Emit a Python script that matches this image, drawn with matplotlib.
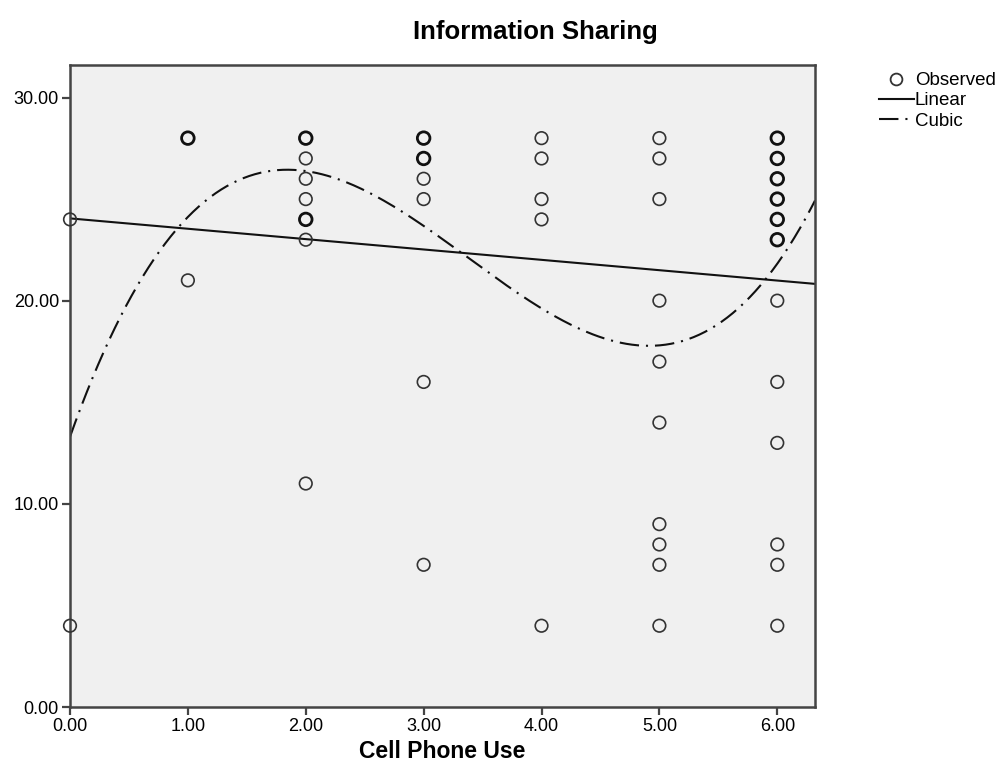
import numpy as np
import matplotlib
matplotlib.use("Agg")
import matplotlib.pyplot as plt
from matplotlib.lines import Line2D

plt.rcParams["font.family"] = ["Liberation Sans", "DejaVu Sans"]
plt.rcParams["lines.scale_dashes"] = False

# Observed data (x = Cell Phone Use, y = Information Sharing, n = overlapping cases)
x_obs = [0, 0,
         1, 1,
         2, 2, 2, 2, 2, 2, 2,
         3, 3, 3, 3, 3, 3,
         4, 4, 4, 4, 4,
         5, 5, 5, 5, 5, 5, 5, 5, 5, 5,
         6, 6, 6, 6, 6, 6, 6, 6, 6, 6, 6, 6]
y_obs = [24, 4,
         28, 21,
         28, 27, 26, 25, 24, 23, 11,
         28, 27, 26, 25, 16, 7,
         28, 27, 25, 24, 4,
         28, 27, 25, 20, 17, 14, 9, 8, 7, 4,
         28, 27, 26, 25, 24, 23, 20, 16, 13, 8, 7, 4]
n_obs = [1, 1,
         2, 1,
         2, 1, 1, 1, 2, 1, 1,
         2, 2, 1, 1, 1, 1,
         1, 1, 1, 1, 1,
         1, 1, 1, 1, 1, 1, 1, 1, 1, 1,
         2, 2, 2, 2, 2, 2, 1, 1, 1, 1, 1, 1]

# Fitted models (coefficients, lowest order first)
linear_coef = [24.05, -0.51]
cubic_coef = [13.3, 16.3, -6.08, 0.60]

x_ticks = [0, 1, 2, 3, 4, 5, 6]
y_ticks = [0, 10, 20, 30]
x_max = 6.32
y_max = 31.6

title = "Information Sharing"
x_label = "Cell Phone Use"

fig = plt.figure(figsize=(10.05, 7.8), dpi=100)
ax = fig.add_axes([70 / 1005, 1 - 707 / 780, 745 / 1005, 642 / 780])
ax.set_facecolor("#f0f0f0")

x_obs = np.array(x_obs, float)
y_obs = np.array(y_obs, float)
n_obs = np.array(n_obs)
single = n_obs == 1
multi = n_obs > 1
ax.scatter(x_obs[single], y_obs[single], s=82, facecolors="none",
           edgecolors="#333333", linewidths=1.2, zorder=3, clip_on=False)
ax.scatter(x_obs[multi], y_obs[multi], s=82, facecolors="none",
           edgecolors="#111111", linewidths=2.0, zorder=3, clip_on=False)

xs = np.linspace(0, x_max, 400)
y_lin = np.polynomial.polynomial.polyval(xs, linear_coef)
y_cub = np.polynomial.polynomial.polyval(xs, cubic_coef)
ax.plot(xs, y_lin, color="#111111", lw=1.5, zorder=2)
cub_line, = ax.plot(xs, y_cub, color="#111111", lw=1.5, zorder=2)
cub_line.set_dashes([14, 5, 1.5, 5])

ax.set_xlim(0, x_max)
ax.set_ylim(0, y_max)
ax.set_xticks(x_ticks)
ax.set_xticklabels([f"{v:.2f}" for v in x_ticks])
ax.set_yticks(y_ticks)
ax.set_yticklabels([f"{v:.2f}" for v in y_ticks])
ax.tick_params(direction="out", length=6, width=1.6, color="#444444",
               labelsize=13, pad=2)
for s in ax.spines.values():
    s.set_color("#444444")
    s.set_linewidth(1.8)

fig.text(442 / 1005, 1 - 752 / 780, x_label, ha="center", va="center",
         fontsize=16.5, fontweight="bold")
fig.text(535 / 1005, 1 - 32 / 780, title, ha="center", va="center",
         fontsize=18.5, fontweight="bold")

handles = [
    Line2D([], [], marker="o", ls="none", mfc="none", mec="#333333",
           ms=8.5, mew=1.3),
    Line2D([], [], color="#111111", lw=1.5),
    Line2D([], [], color="#111111", lw=1.5, dashes=[14, 5, 1.5, 5]),
]
fig.legend(handles, ["Observed", "Linear", "Cubic"], loc="upper left",
           bbox_to_anchor=(879 / 1005, 1 - 72 / 780), frameon=False,
           fontsize=13.5, handlelength=1.85, handletextpad=0.05,
           labelspacing=0.17, borderaxespad=0, borderpad=0)

fig.savefig("out.png", dpi=100)
